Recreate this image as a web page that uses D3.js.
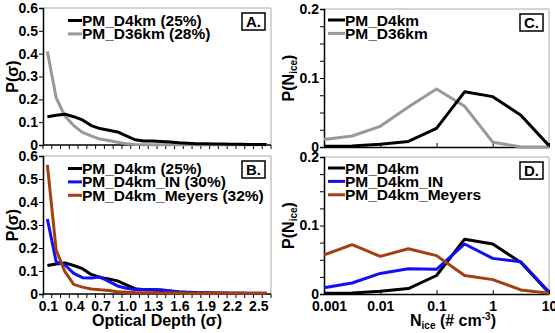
<!DOCTYPE html>
<html>
<head>
<meta charset="utf-8">
<script src="https://cdn.jsdelivr.net/npm/d3@7"></script>
<style>
  body { margin: 0; background: #fff; }
  svg { display: block; font-family: "Liberation Sans", Arial, sans-serif; font-weight: bold; }
</style>
</head>
<body>
<script>
// optical depth categories 0.1 .. 2.6
const depthCats = d3.range(1, 27).map(i => (i / 10).toFixed(1))
const depthLabels = ["0.1", "0.4", "0.7", "1.0", "1.3", "1.6", "1.9", "2.2", "2.5"]

// panel A / B : P(sigma)
const d4km     = [0.124, 0.13, 0.135, 0.124, 0.11, 0.085, 0.072, 0.065, 0.057, 0.04, 0.023, 0.018, 0.017, 0.015, 0.013, 0.01, 0.008, 0.006, 0.005, 0.004, 0.004, 0.003, 0.003, 0.002, 0.002, 0.002]
const d36km    = [0.41, 0.207, 0.127, 0.085, 0.055, 0.04, 0.026, 0.02, 0.012, 0.005, 0.002, 0.001, 0.001, 0.001, 0.001, 0.001, 0.001, 0.001, 0.001, 0.001, 0.001, 0.001, 0.001, 0.001, 0.001, 0.001]
const d4kmIN   = [0.326, 0.14, 0.126, 0.09, 0.071, 0.07, 0.074, 0.055, 0.035, 0.025, 0.02, 0.02, 0.02, 0.018, 0.013, 0.008, 0.006, 0.005, 0.004, 0.004, 0.003, 0.003, 0.003, 0.003, 0.003, 0.003]
const d4kmMey  = [0.561, 0.191, 0.097, 0.042, 0.03, 0.022, 0.018, 0.015, 0.01, 0.008, 0.006, 0.005, 0.005, 0.004, 0.004, 0.004, 0.003, 0.003, 0.003, 0.003, 0.003, 0.003, 0.003, 0.003, 0.003, 0.003]

// panel C / D : P(Nice), half-decade bins
const niceBins   = [0.001, 0.00316, 0.01, 0.0316, 0.1, 0.316, 1, 3.16, 10]
const niceTicks  = [0.001, 0.01, 0.1, 1, 10]
const nD4km      = [0.001, 0.0015, 0.004, 0.008, 0.027, 0.080, 0.073, 0.046, 0.002]
const nD36km     = [0.011, 0.016, 0.030, 0.058, 0.084, 0.059, 0.007, 0.000, 0.000]
const nD4kmIN    = [0.009, 0.016, 0.030, 0.037, 0.036, 0.073, 0.052, 0.047, 0.003]
const nD4kmMey   = [0.057, 0.072, 0.055, 0.066, 0.056, 0.027, 0.021, 0.006, 0.001]

const BLACK = "#000", GRAY = "#999", BLUE = "#1010f0", BROWN = "#a2400f"

const TICK_FS = 14, LEG_FS = 15.5, TITLE_FS = 16, SUB_FS = 10

const W = 555, H = 333
const svg = d3.select("body").append("svg").attr("width", W).attr("height", H)

const fmt1 = v => v === 0 ? "0" : v.toFixed(1)

function frame(g, p) {
    g.append("path")
        .attr("d", `M${p.l},${p.t}H${p.r}V${p.b}`)
        .attr("fill", "none").attr("stroke", "#aaa").attr("stroke-width", 1)
}

function panelLabel(g, p, txt) {
    const bw = 23, bh = 17
    g.append("rect")
        .attr("x", p.r - 6 - bw).attr("y", p.t + 5)
        .attr("width", bw).attr("height", bh)
        .attr("fill", "#fff").attr("stroke", "#000").attr("stroke-width", 1.5)
    g.append("text")
        .attr("x", p.r - 6 - bw / 2).attr("y", p.t + 5 + bh / 2 + 5.5)
        .attr("text-anchor", "middle").attr("font-size", 15).text(txt)
}

function legend(g, x, y, items, lw) {
    items.forEach((it, i) => {
        const yy = y + i * 13.4
        g.append("line").attr("x1", x).attr("x2", x + lw).attr("y1", yy).attr("y2", yy)
            .attr("stroke", it.color).attr("stroke-width", 3)
        g.append("text").attr("x", x + lw).attr("y", yy + 5.5)
            .attr("font-size", LEG_FS).text(it.name)
    })
}

/* ---------- sigma panels ---------- */
function sigmaPanel(p, series, label, legendItems, showLabels) {
    const g = svg.append("g")
    frame(g, p)

    const x = d3.scaleBand().domain(depthCats).range([p.l, p.r])
    const y = d3.scaleLinear().domain([0, 0.6]).range([p.b, p.t])
    const cx = c => x(c) + x.bandwidth() / 2

    // y axis
    const gy = g.append("g").attr("transform", `translate(${p.l},0)`)
        .call(d3.axisLeft(y).tickValues(d3.range(0, 0.61, 0.1)).tickFormat(fmt1).tickSize(4).tickPadding(1))
    gy.select(".domain").attr("stroke-width", 1.5)
    gy.selectAll("text").attr("font-size", TICK_FS).attr("font-family", null).attr("fill", "#000")

    // x axis: ticks between categories
    const bounds = depthCats.map(c => x(c)).concat([p.r])
    g.selectAll(null).data(bounds).join("line")
        .attr("x1", d => d).attr("x2", d => d)
        .attr("y1", p.b).attr("y2", p.b + 4)
        .attr("stroke", "#000").attr("stroke-width", 1)
    g.append("line").attr("x1", p.l).attr("x2", p.r).attr("y1", p.b).attr("y2", p.b)
        .attr("stroke", "#000").attr("stroke-width", 1.5)
    if (showLabels) {
        g.selectAll(null).data(depthLabels).join("text")
            .attr("x", d => cx(d) + 1).attr("y", p.b + 17)
            .attr("text-anchor", "middle").attr("font-size", TICK_FS).text(d => d)
    }

    const line = d3.line().x((d, i) => cx(depthCats[i])).y(d => y(d))
    series.forEach(s => {
        g.append("path").datum(s.values).attr("d", line)
            .attr("fill", "none").attr("stroke", s.color).attr("stroke-width", 3)
            .attr("stroke-linejoin", "round")
    })

    legend(g, p.l + 25, p.t + 12.5, legendItems, 14)
    panelLabel(g, p, label)

    g.append("text")
        .attr("transform", `translate(${12},${(p.t + p.b) / 2}) rotate(-90)`)
        .attr("text-anchor", "middle").attr("dy", "0.35em").attr("font-size", TITLE_FS)
        .text("P(σ)")
}

/* ---------- Nice panels ---------- */
function nicePanel(p, series, label, legendItems, showLabels) {
    const g = svg.append("g")
    frame(g, p)

    const x = d3.scaleLog().domain([0.001, 10]).range([p.l, p.r])
    const y = d3.scaleLinear().domain([0, 0.2]).range([p.b, p.t])

    const gy = g.append("g").attr("transform", `translate(${p.l},0)`)
        .call(d3.axisLeft(y).tickValues(d3.range(0, 0.201, 0.025))
            .tickFormat(v => Math.abs(v * 10 - Math.round(v * 10)) < 1e-6 ? fmt1(v) : "")
            .tickSize(4).tickPadding(1))
    gy.select(".domain").attr("stroke-width", 1.5)
    gy.selectAll("text").attr("font-size", TICK_FS).attr("font-family", null).attr("fill", "#000")

    const gx = g.append("g").attr("transform", `translate(0,${p.b})`)
        .call(d3.axisBottom(x).tickValues(niceTicks).tickFormat(showLabels ? d => String(d) : () => "")
            .tickSizeInner(-4).tickSizeOuter(0).tickPadding(7))
    gx.select(".domain").attr("stroke-width", 1.5)
    gx.selectAll("text").attr("font-size", TICK_FS).attr("font-family", null).attr("fill", "#000")
    // first label nudged inward, as in the original
    gx.selectAll(".tick text").filter(d => d === 0.001).attr("dx", 5)

    const line = d3.line().x((d, i) => x(niceBins[i])).y(d => y(d))
    series.forEach(s => {
        g.append("path").datum(s.values).attr("d", line)
            .attr("fill", "none").attr("stroke", s.color).attr("stroke-width", 3)
            .attr("stroke-linejoin", "round")
    })

    legend(g, p.l + 4, p.t + 11, legendItems, 17)
    panelLabel(g, p, label)

    const t = g.append("text")
        .attr("transform", `translate(${288},${(p.t + p.b) / 2}) rotate(-90)`)
        .attr("text-anchor", "middle").attr("dy", "0.35em").attr("font-size", TITLE_FS)
    t.append("tspan").text("P(N")
    t.append("tspan").attr("font-size", SUB_FS).attr("dy", 3).text("ice")
    t.append("tspan").attr("dy", -3).text(")")
}

sigmaPanel({ l: 43, r: 271, t: 8, b: 145 },
    [{ values: d36km, color: GRAY }, { values: d4km, color: BLACK }], "A.",
    [{ name: "PM_D4km (25%)", color: BLACK }, { name: "PM_D36km (28%)", color: GRAY }], false)

sigmaPanel({ l: 43, r: 271, t: 156, b: 294 },
    [{ values: d4km, color: BLACK }, { values: d4kmIN, color: BLUE }, { values: d4kmMey, color: BROWN }], "B.",
    [{ name: "PM_D4km (25%)", color: BLACK }, { name: "PM_D4km_IN (30%)", color: BLUE },
     { name: "PM_D4km_Meyers (32%)", color: BROWN }], true)

nicePanel({ l: 324, r: 549, t: 9, b: 147 },
    [{ values: nD36km, color: GRAY }, { values: nD4km, color: BLACK }], "C.",
    [{ name: "PM_D4km", color: BLACK }, { name: "PM_D36km", color: GRAY }], false)

nicePanel({ l: 324, r: 549, t: 157, b: 294 },
    [{ values: nD4km, color: BLACK }, { values: nD4kmIN, color: BLUE }, { values: nD4kmMey, color: BROWN }], "D.",
    [{ name: "PM_D4km", color: BLACK }, { name: "PM_D4km_IN", color: BLUE },
     { name: "PM_D4km_Meyers", color: BROWN }], true)

// x axis titles
svg.append("text").attr("x", 157).attr("y", 326).attr("text-anchor", "middle")
    .attr("font-size", TITLE_FS).text("Optical Depth (σ)")

const nt = svg.append("text").attr("x", 453).attr("y", 326).attr("text-anchor", "middle").attr("font-size", TITLE_FS)
nt.append("tspan").text("N")
nt.append("tspan").attr("font-size", SUB_FS).attr("dy", 3).text("ice")
nt.append("tspan").attr("dy", -3).text(" (# cm")
nt.append("tspan").attr("font-size", SUB_FS).attr("dy", -6).text("-3")
nt.append("tspan").attr("dy", 6).text(")")
</script>
</body>
</html>
